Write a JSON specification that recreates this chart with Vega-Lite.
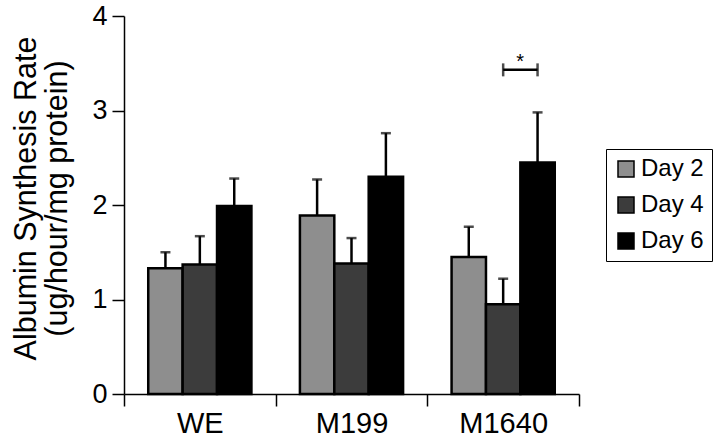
{
  "$schema": "https://vega.github.io/schema/vega-lite/v6.json",
  "width": 455,
  "height": 378,
  "autosize": {"type": "none"},
  "padding": {"left": 124, "top": 16, "right": 135, "bottom": 47},
  "background": "white",
  "config": {
    "font": "Liberation Sans",
    "view": {"stroke": null},
    "axis": {"domainColor": "black", "tickColor": "black", "labelColor": "black", "titleColor": "black", "grid": false, "domainWidth": 1.5, "tickWidth": 1.5}
  },
  "datasets": {
    "bars": [
      {"group": "WE", "day": "Day 2", "value": 1.33, "hi": 1.50},
      {"group": "WE", "day": "Day 4", "value": 1.37, "hi": 1.67},
      {"group": "WE", "day": "Day 6", "value": 1.99, "hi": 2.28},
      {"group": "M199", "day": "Day 2", "value": 1.89, "hi": 2.27},
      {"group": "M199", "day": "Day 4", "value": 1.38, "hi": 1.65},
      {"group": "M199", "day": "Day 6", "value": 2.30, "hi": 2.76},
      {"group": "M1640", "day": "Day 2", "value": 1.45, "hi": 1.77},
      {"group": "M1640", "day": "Day 4", "value": 0.95, "hi": 1.22},
      {"group": "M1640", "day": "Day 6", "value": 2.45, "hi": 2.98}
    ],
    "sig": [
      {"group": "M1640", "day": "Day 4", "value": 3.43},
      {"group": "M1640", "day": "Day 6", "value": 3.43}
    ],
    "star": [
      {"group": "M1640", "day": "Day 4", "value": 3.51, "label": "*"}
    ]
  },
  "encoding": {
    "x": {
      "field": "group", "type": "nominal", "sort": ["WE", "M199", "M1640"],
      "scale": {"paddingInner": 0, "paddingOuter": 0},
      "axis": {"title": null, "labelAngle": 0, "labelFontSize": 29, "tickBand": "extent", "tickSize": 12, "labelPadding": 3}
    },
    "xOffset": {
      "field": "day", "type": "nominal",
      "scale": {"domain": ["Day 2", "Day 4", "Day 6"], "paddingInner": 0, "paddingOuter": 0.705}
    }
  },
  "layer": [
    {
      "data": {"name": "bars"},
      "mark": {"type": "bar", "stroke": "black", "strokeWidth": 2.5},
      "encoding": {
        "y": {
          "field": "value", "type": "quantitative",
          "title": ["Albumin Synthesis Rate", "(ug/hour/mg protein)"],
          "scale": {"domain": [0, 4]},
          "axis": {"values": [0, 1, 2, 3, 4], "format": "d", "tickSize": 12, "labelFontSize": 27, "labelPadding": 5, "titleFontSize": 30.5, "titleFontWeight": "normal", "titleLineHeight": 31, "titlePadding": 19, "titleY": 182}
        },
        "color": {
          "field": "day", "type": "nominal",
          "scale": {"domain": ["Day 2", "Day 4", "Day 6"], "range": ["#8e8e8e", "#3c3c3c", "#000000"]},
          "legend": {"orient": "none", "legendX": 482, "legendY": 133, "title": null, "strokeColor": "black", "fillColor": "white", "padding": 8, "labelFontSize": 24, "symbolType": "square", "symbolSize": 256, "symbolStrokeColor": "black", "symbolStrokeWidth": 1.5, "rowPadding": 12, "labelOffset": 3, "labelColor": "black"}
        }
      }
    },
    {
      "data": {"name": "bars"},
      "mark": {"type": "rule", "color": "black", "strokeWidth": 2.5},
      "encoding": {
        "y": {"field": "value", "type": "quantitative", "title": ["Albumin Synthesis Rate", "(ug/hour/mg protein)"]},
        "y2": {"field": "hi"}
      }
    },
    {
      "data": {"name": "bars"},
      "mark": {"type": "tick", "color": "black", "size": 10, "thickness": 2.5},
      "encoding": {
        "y": {"field": "hi", "type": "quantitative", "title": ["Albumin Synthesis Rate", "(ug/hour/mg protein)"]}
      }
    },
    {
      "data": {"name": "sig"},
      "mark": {"type": "line", "color": "black", "strokeWidth": 2.5},
      "encoding": {
        "y": {"field": "value", "type": "quantitative", "title": ["Albumin Synthesis Rate", "(ug/hour/mg protein)"]}
      }
    },
    {
      "data": {"name": "sig"},
      "mark": {"type": "tick", "orient": "vertical", "color": "black", "size": 13, "thickness": 2.5},
      "encoding": {
        "y": {"field": "value", "type": "quantitative", "title": ["Albumin Synthesis Rate", "(ug/hour/mg protein)"]}
      }
    },
    {
      "data": {"name": "star"},
      "mark": {"type": "text", "color": "black", "fontSize": 20, "dx": 17, "baseline": "middle"},
      "encoding": {
        "y": {"field": "value", "type": "quantitative", "title": ["Albumin Synthesis Rate", "(ug/hour/mg protein)"]},
        "text": {"field": "label"}
      }
    }
  ]
}
